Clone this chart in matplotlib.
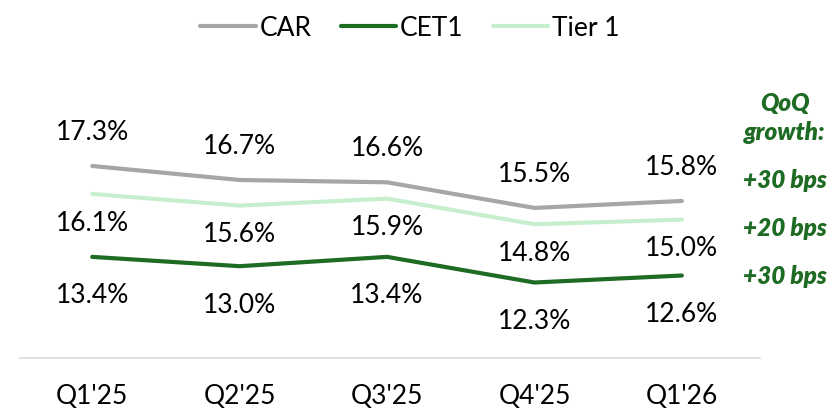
import matplotlib
matplotlib.use("Agg")
import matplotlib.pyplot as plt

quarters = ["Q1'25", "Q2'25", "Q3'25", "Q4'25", "Q1'26"]
car = [17.3, 16.7, 16.6, 15.5, 15.8]
cet1 = [13.4, 13.0, 13.4, 12.3, 12.6]
tier1 = [16.1, 15.6, 15.9, 14.8, 15.0]
growth_labels = ["+30 bps", "+20 bps", "+30 bps"]

plt.rcParams['font.family'] = ['Lato', 'DejaVu Sans']

W, H = 831, 409
fig = plt.figure(figsize=(W/100, H/100), dpi=100)
ax = fig.add_axes([20/W, 51/H, 740/W, 298/H])

c_car = '#A6A6A6'
c_cet1 = '#1E6B24'
c_t1 = '#C6EFCE'

x = list(range(len(quarters)))
ax.plot(x, car, color=c_car, lw=3, solid_capstyle='round', label='CAR')
ax.plot(x, cet1, color=c_cet1, lw=3, solid_capstyle='round', label='CET1')
ax.plot(x, tier1, color=c_t1, lw=3, solid_capstyle='round', label='Tier 1')

ax.set_xlim(-0.49, 4.53)
ax.set_ylim(9.06, 17.3 + (166-60)/23.3)

fs = 19
for i in x:
    ax.annotate(f"{car[i]:.1f}%", (i, car[i]), xytext=(0, 24), textcoords='offset points',
                ha='center', va='center', fontsize=fs, color='black')
    ax.annotate(f"{tier1[i]:.1f}%", (i, tier1[i]), xytext=(0, -21), textcoords='offset points',
                ha='center', va='center', fontsize=fs, color='black')
    ax.annotate(f"{cet1[i]:.1f}%", (i, cet1[i]), xytext=(0, -28), textcoords='offset points',
                ha='center', va='center', fontsize=fs, color='black')

for s in ['top', 'right', 'left']:
    ax.spines[s].set_visible(False)
ax.spines['bottom'].set_color('#D9D9D9')
ax.spines['bottom'].set_linewidth(1.2)
ax.set_yticks([])
ax.set_xticks(x)
ax.set_xticklabels(quarters, fontsize=fs)
ax.tick_params(axis='x', length=0, pad=19)

leg = fig.legend(loc='center', bbox_to_anchor=(410/W, 1-28/H), ncol=3, frameon=False,
                 fontsize=fs, handlelength=2.1, handletextpad=0.15, columnspacing=1.1)

gfs = 17.5
gx = 785/W
kw = dict(ha='center', va='center', fontsize=gfs, color=c_cet1,
          fontweight='heavy', fontstyle='italic')
fig.text(gx, 1-103/H, "QoQ", **kw)
fig.text(gx, 1-133/H, "growth:", **kw)
for ypix, lab in zip([181, 228, 276], growth_labels):
    fig.text(gx, 1-ypix/H, lab, **kw)

fig.savefig('out.png', dpi=100)
